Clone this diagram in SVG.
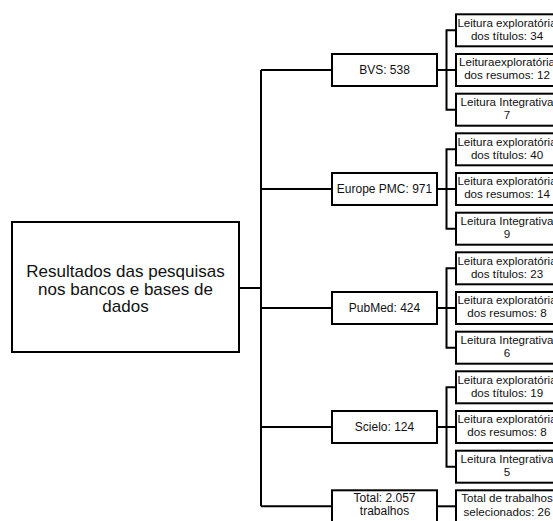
<svg xmlns="http://www.w3.org/2000/svg" width="553" height="521" viewBox="0 0 553 521">
<style>
.box{fill:#fff;stroke:#000;stroke-width:2}
.ln{fill:none;stroke:#000;stroke-width:2}
text{font-family:"Liberation Sans",Arial,sans-serif;fill:#111;text-anchor:middle}
.m{font-size:12px}
.l{font-size:11.6px}
.r{font-size:17px}
</style>
<rect width="553" height="521" fill="#fff"/>
<g id="connectors">
<path class="ln" d="M239 288H261M261 70V506.3M261 70H332M261 189H332M261 308H332M261 427H332M261 506.3H332"/>
<path class="ln" d="M437 70H446.5M456 30.3H446.5V109.7H456M446.5 70H456"/>
<path class="ln" d="M437 189H446.5M456 149.3H446.5V228.7H456M446.5 189H456"/>
<path class="ln" d="M437 308H446.5M456 268.3H446.5V347.7H456M446.5 308H456"/>
<path class="ln" d="M437 427H446.5M456 387.3H446.5V466.7H456M446.5 427H456"/>
<path class="ln" d="M437 506.3H456"/>
</g>
<g id="root"><rect class="box" x="12" y="222" width="227" height="130"/>
<text class="r" x="125.5" y="277">Resultados das pesquisas</text>
<text class="r" x="125.5" y="294.5">nos bancos e bases de</text>
<text class="r" x="125.5" y="312">dados</text></g>
<g id="bvs"><rect class="box" x="332" y="54" width="105" height="32"/><text class="m" x="384.5" y="74.3">BVS: 538</text></g>
<g id="europe"><rect class="box" x="332" y="173" width="105" height="32"/><text class="m" x="384.5" y="193.3">Europe PMC: 971</text></g>
<g id="pubmed"><rect class="box" x="332" y="292" width="105" height="32"/><text class="m" x="384.5" y="312.3">PubMed: 424</text></g>
<g id="scielo"><rect class="box" x="332" y="411" width="105" height="32"/><text class="m" x="384.5" y="431.3">Scielo: 124</text></g>
<g id="total"><rect class="box" x="332" y="490.3" width="105" height="32"/><text class="m" x="384.5" y="501.7">Total: 2.057</text><text class="m" x="384.5" y="515">trabalhos</text></g>
<g id="bvs1"><rect class="box" x="456" y="14.3" width="106" height="32"/><text class="l" x="507" y="26.5">Leitura exploratória</text><text class="l" x="507" y="39.5">dos títulos: 34</text></g>
<g id="bvs2"><rect class="box" x="456" y="54" width="106" height="32"/><text class="l" x="507" y="66.2">Leituraexploratória</text><text class="l" x="507" y="79.2">dos resumos: 12</text></g>
<g id="bvs3"><rect class="box" x="456" y="93.7" width="106" height="32"/><text class="l" x="507" y="105.9">Leitura Integrativa</text><text class="l" x="507" y="118.9">7</text></g>
<g id="eu1"><rect class="box" x="456" y="133.3" width="106" height="32"/><text class="l" x="507" y="145.5">Leitura exploratória</text><text class="l" x="507" y="158.5">dos títulos: 40</text></g>
<g id="eu2"><rect class="box" x="456" y="173" width="106" height="32"/><text class="l" x="507" y="185.2">Leitura exploratória</text><text class="l" x="507" y="198.2">dos resumos: 14</text></g>
<g id="eu3"><rect class="box" x="456" y="212.7" width="106" height="32"/><text class="l" x="507" y="224.9">Leitura Integrativa</text><text class="l" x="507" y="237.9">9</text></g>
<g id="pm1"><rect class="box" x="456" y="252.3" width="106" height="32"/><text class="l" x="507" y="264.5">Leitura exploratória</text><text class="l" x="507" y="277.5">dos títulos: 23</text></g>
<g id="pm2"><rect class="box" x="456" y="292" width="106" height="32"/><text class="l" x="507" y="304.2">Leitura exploratória</text><text class="l" x="507" y="317.2">dos resumos: 8</text></g>
<g id="pm3"><rect class="box" x="456" y="331.7" width="106" height="32"/><text class="l" x="507" y="343.9">Leitura Integrativa</text><text class="l" x="507" y="356.9">6</text></g>
<g id="sc1"><rect class="box" x="456" y="371.3" width="106" height="32"/><text class="l" x="507" y="383.5">Leitura exploratória</text><text class="l" x="507" y="396.5">dos títulos: 19</text></g>
<g id="sc2"><rect class="box" x="456" y="411" width="106" height="32"/><text class="l" x="507" y="423.2">Leitura exploratória</text><text class="l" x="507" y="436.2">dos resumos: 8</text></g>
<g id="sc3"><rect class="box" x="456" y="450.7" width="106" height="32"/><text class="l" x="507" y="462.9">Leitura Integrativa</text><text class="l" x="507" y="475.9">5</text></g>
<g id="tot1"><rect class="box" x="456" y="490.3" width="106" height="32"/><text class="l" x="507" y="502">Total de trabalhos</text><text class="l" x="507" y="515.5">selecionados: 26</text></g>
</svg>
